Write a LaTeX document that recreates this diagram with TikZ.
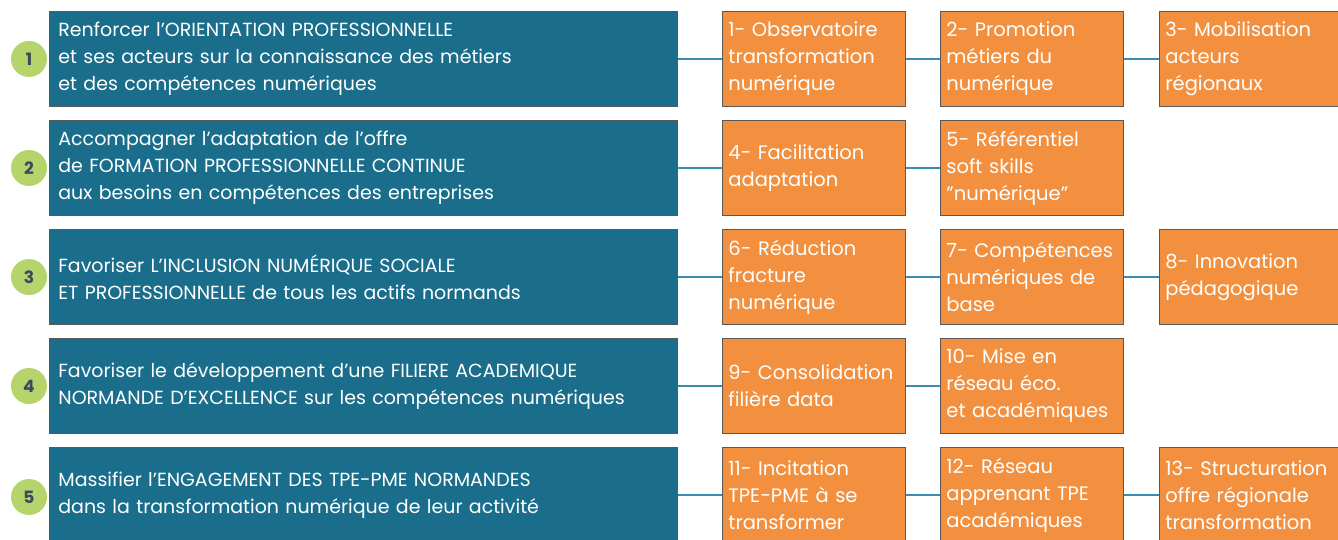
\documentclass[tikz,border=0pt]{standalone}
\usepackage{fontspec}
\setmainfont{Poppins}
\definecolor{axeblue}{HTML}{1A6E8C}
\definecolor{actorange}{HTML}{F2903F}
\definecolor{numgreen}{HTML}{B5D46C}
\definecolor{numtext}{HTML}{3B4A5A}
\definecolor{linkblue}{HTML}{3A8DAE}
\tikzset{
  axe/.style={fill=axeblue, draw=gray!70!black, line width=0.8pt,
    anchor=west, text=white, text width=610, align=left, inner xsep=9,
    minimum height=95, font=\fontsize{19}{27}\selectfont},
  action/.style={fill=actorange, draw=gray!70!black, line width=0.8pt,
    anchor=west, text=white, text width=171, align=left, inner xsep=6,
    minimum height=95, font=\fontsize{19.5}{27}\selectfont},
  num/.style={circle, fill=numgreen, text=numtext, minimum size=36,
    inner sep=0, font=\fontsize{17}{20}\selectfont\bfseries},
  link/.style={draw=linkblue, line width=2.2pt}
}
\begin{document}
\begin{tikzpicture}[x=1pt,y=-1pt]
  \useasboundingbox (0,0) rectangle (1338,540);
  % numbered axes
  \node[num] (n1) at (29,59) {1};
  \node[num] (n2) at (29,168) {2};
  \node[num] (n3) at (29,277) {3};
  \node[num] (n4) at (29,386) {4};
  \node[num] (n5) at (29,497) {5};
  \node[axe] (a1) at (49,59) {Renforcer l’ORIENTATION PROFESSIONNELLE\\
    et ses acteurs sur la connaissance des métiers\\
    et des compétences numériques};
  \node[axe] (a2) at (49,168) {Accompagner l’adaptation de l’offre\\
    de FORMATION PROFESSIONNELLE CONTINUE\\
    aux besoins en compétences des entreprises};
  \node[axe] (a3) at (49,277) {Favoriser L’INCLUSION NUMÉRIQUE SOCIALE\\
    ET PROFESSIONNELLE de tous les actifs normands};
  \node[axe] (a4) at (49,386) {Favoriser le développement d’une FILIERE ACADEMIQUE\\
    NORMANDE D’EXCELLENCE sur les compétences numériques};
  \node[axe] (a5) at (49,495) {Massifier l’ENGAGEMENT DES TPE-PME NORMANDES\\
    dans la transformation numérique de leur activité};
  % actions
  \node[action] (o1) at (722,59) {1- Observatoire\\transformation\\numérique};
  \node[action] (o2) at (940,59) {2- Promotion\\métiers du\\numérique};
  \node[action] (o3) at (1159,59) {3- Mobilisation\\acteurs\\régionaux};
  \node[action] (o4) at (722,168) {4- Facilitation\\adaptation};
  \node[action] (o5) at (940,168) {5- Référentiel\\soft skills\\"numérique"};
  \node[action] (o6) at (722,277) {6- Réduction\\fracture\\numérique};
  \node[action] (o7) at (940,277) {7- Compétences\\numériques de\\base};
  \node[action] (o8) at (1159,277) {8- Innovation\\pédagogique};
  \node[action] (o9) at (722,386) {9- Consolidation\\filière data};
  \node[action] (o10) at (940,386) {10- Mise en\\réseau éco.\\et académiques};
  \node[action] (o11) at (722,495) {11- Incitation\\TPE-PME à se\\transformer};
  \node[action] (o12) at (940,495) {12- Réseau\\apprenant TPE\\académiques};
  \node[action] (o13) at (1159,495) {13- Structuration\\offre régionale\\transformation};
  % links
  \draw[link] (a1.east) -- (o1.west);
  \draw[link] (o1.east) -- (o2.west);
  \draw[link] (o2.east) -- (o3.west);
  \draw[link] (a2.east) -- (o4.west);
  \draw[link] (o4.east) -- (o5.west);
  \draw[link] (a3.east) -- (o6.west);
  \draw[link] (o6.east) -- (o7.west);
  \draw[link] (o7.east) -- (o8.west);
  \draw[link] (a4.east) -- (o9.west);
  \draw[link] (o9.east) -- (o10.west);
  \draw[link] (a5.east) -- (o11.west);
  \draw[link] (o11.east) -- (o12.west);
  \draw[link] (o12.east) -- (o13.west);
\end{tikzpicture}
\end{document}
